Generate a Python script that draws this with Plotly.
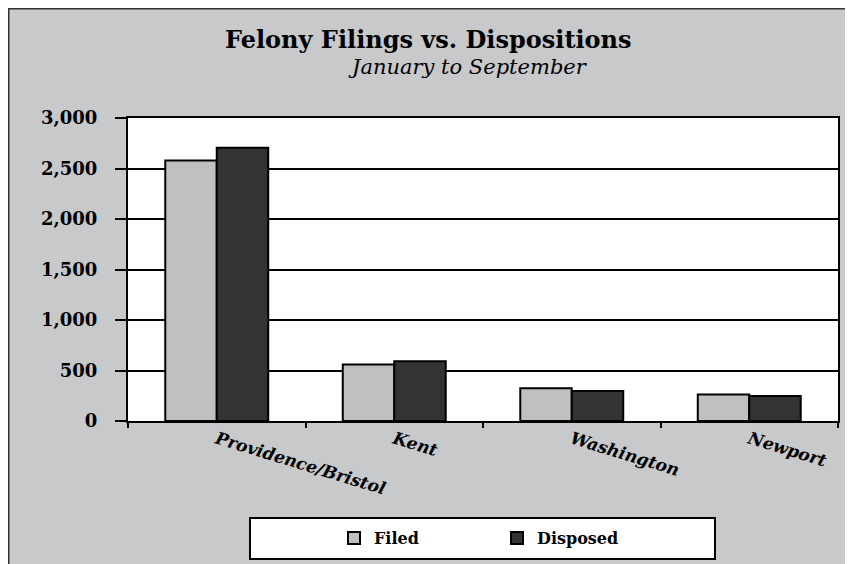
import plotly.graph_objects as go

categories = ["Providence/Bristol", "Kent", "Washington", "Newport"]
filed = [2580, 560, 325, 262]
disposed = [2705, 592, 297, 247]
series_names = ["Filed", "Disposed"]
title_text = "Felony Filings vs. Dispositions"
subtitle_text = "January to September"

BG = "#C8C9CB"
SERIF = "DejaVu Serif, Liberation Serif, serif"

# layout geometry (figure pixels; page has an 8px body margin)
W, H = 853, 564
L, R, T, B = 120, 23, 110, 151
PW, PH = W - L - R, H - T - B

def px_x(x):
    return (x - L) / PW

def px_y(y):
    return (H - B - y) / PH

fig = go.Figure()
fig.add_trace(go.Bar(x=categories, y=filed, name=series_names[0],
                     marker=dict(color="#C0C0C0", line=dict(color="black", width=2))))
fig.add_trace(go.Bar(x=categories, y=disposed, name=series_names[1],
                     marker=dict(color="#333333", line=dict(color="black", width=2))))

fig.update_layout(
    width=W, height=H,
    margin=dict(l=L, r=R, t=T, b=B, pad=0),
    paper_bgcolor=BG, plot_bgcolor="white",
    barmode="group", bargap=0.42, bargroupgap=0,
    showlegend=True,
    legend=dict(orientation="h", x=px_x(326), y=px_y(530), xanchor="left", yanchor="middle",
                bgcolor="rgba(0,0,0,0)", entrywidth=118, entrywidthmode="pixels",
                font=dict(family=SERIF, size=16, color="black", weight="bold"), itemwidth=30,
                traceorder="normal"),
    font=dict(family=SERIF, color="black"),
)

fig.update_yaxes(range=[0, 3000], dtick=500, tickformat=",",
                 showgrid=True, gridcolor="black", gridwidth=2,
                 showline=True, linecolor="black", linewidth=2, mirror=True,
                 ticks="outside", ticklen=11, tickwidth=2, tickcolor="black",
                 ticklabelstandoff=14,
                 tickfont=dict(family=SERIF, size=18, color="black", weight="bold"),
                 zeroline=False)
fig.update_xaxes(showline=True, linecolor="black", linewidth=2, mirror=True,
                 ticks="outside", tickson="boundaries", ticklen=5, tickwidth=2, tickcolor="black",
                 tickangle=17,
                 tickfont=dict(family=SERIF, size=17, color="black", weight="bold", style="italic"))

# outer frame border (top and left edges)
fig.add_shape(type="line", xref="paper", yref="paper",
              x0=px_x(0), x1=px_x(W), y0=px_y(0.5), y1=px_y(0.5),
              line=dict(color="#333333", width=2))
fig.add_shape(type="line", xref="paper", yref="paper",
              x0=px_x(0.5), x1=px_x(0.5), y0=px_y(0), y1=px_y(H),
              line=dict(color="#333333", width=2))
# legend box
fig.add_shape(type="rect", xref="paper", yref="paper",
              x0=px_x(242), x1=px_x(707), y0=px_y(551), y1=px_y(510),
              fillcolor="white", line=dict(color="black", width=2), layer="below")

fig.add_annotation(text="<b>" + title_text + "</b>", xref="paper", yref="paper",
                   x=px_x(420), y=px_y(31), showarrow=False, xanchor="center", yanchor="middle",
                   font=dict(family=SERIF, size=24, color="black"))
fig.add_annotation(text="<i>" + subtitle_text + "</i>", xref="paper", yref="paper",
                   x=px_x(460), y=px_y(59), showarrow=False, xanchor="center", yanchor="middle",
                   font=dict(family=SERIF, size=21, color="black"))

fig.write_html("out.html")
